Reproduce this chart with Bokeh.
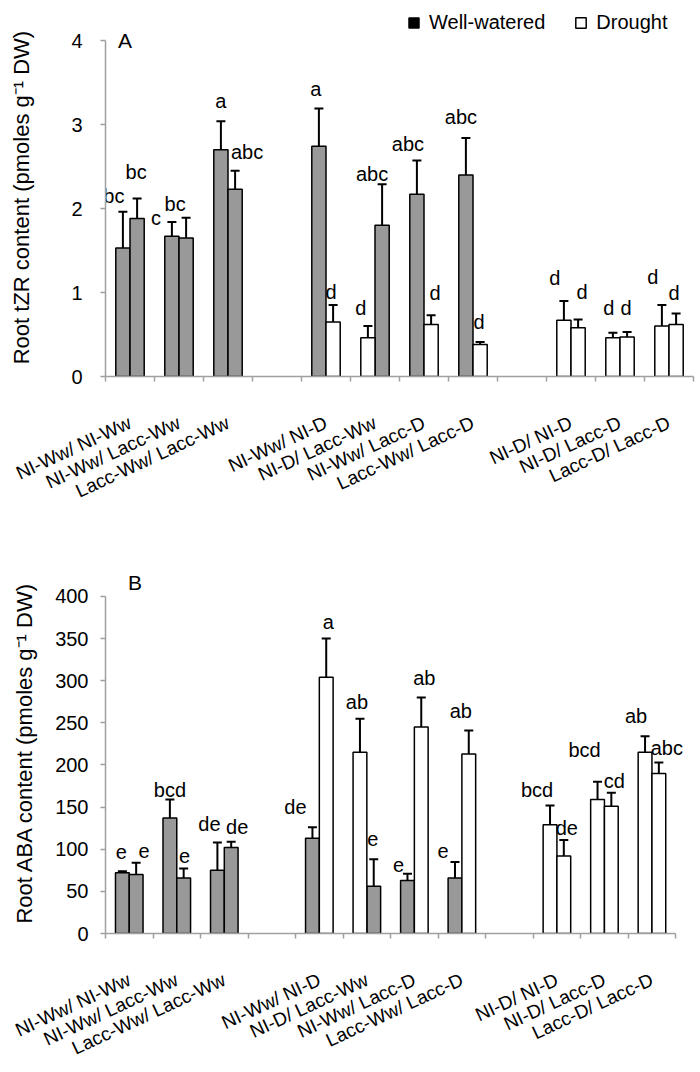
import math
from bokeh.plotting import figure
from bokeh.layouts import column
from bokeh.models import (ColumnDataSource, FixedTicker, Whisker, TeeHead, Range1d,
                          Legend, LegendItem)
from bokeh.core.properties import value
from bokeh.embed import file_html
from bokeh.resources import INLINE

# ---------------- data ----------------
categories = ["NI-Ww/ NI-Ww", "NI-Ww/ Lacc-Ww", "Lacc-Ww/ Lacc-Ww", "",
              "NI-Ww/ NI-D", "NI-D/ Lacc-Ww", "NI-Ww/ Lacc-D", "Lacc-Ww/ Lacc-D", "",
              "NI-D/ NI-D", "NI-D/ Lacc-D", "Lacc-D/ Lacc-D"]
first_status = ["Ww", "Ww", "Ww", None, "Ww", "D", "Ww", "Ww", None, "D", "D", "D"]
second_status = ["Ww", "Ww", "Ww", None, "D", "Ww", "D", "D", None, "D", "D", "D"]

# Panel A: root tZR content
tzr_first = [1.53, 1.67, 2.70, None, 2.74, 0.46, 2.17, 2.40, None, 0.67, 0.46, 0.60]
tzr_first_se = [0.43, 0.17, 0.34, None, 0.45, 0.14, 0.40, 0.44, None, 0.23, 0.06, 0.25]
tzr_second = [1.88, 1.65, 2.23, None, 0.65, 1.80, 0.62, 0.38, None, 0.58, 0.47, 0.62]
tzr_second_se = [0.24, 0.24, 0.22, None, 0.20, 0.49, 0.11, 0.03, None, 0.10, 0.06, 0.13]
tzr_first_letters = ["bc", "c", "a", "", "a", "d", "abc", "abc", "", "d", "d", "d"]
tzr_second_letters = ["bc", "bc", "abc", "", "d", "abc", "d", "d", "", "d", "d", "d"]

# Panel B: root ABA content
aba_first = [72, 137, 75, None, 113, 215, 63, 66, None, 129, 159, 215]
aba_first_se = [2, 22, 33, None, 13, 40, 8, 19, None, 23, 21, 19]
aba_second = [70, 66, 102, None, 304, 56, 245, 213, None, 92, 151, 190]
aba_second_se = [14, 11, 7, None, 46, 32, 35, 28, None, 19, 16, 13]
aba_first_letters = ["e", "bcd", "de", "", "de", "ab", "e", "e", "", "bcd", "bcd", "ab"]
aba_second_letters = ["e", "e", "de", "", "a", "e", "ab", "ab", "", "de", "cd", "abc"]

# letter placement nudges (pixels)
tzr_first_dx = [-9, -16, 0, 0, -3, -7, -9, -5, 0, -9, -4, -9]
tzr_first_dy = [-16, -4, -20, 0, -20, -18, -17, -21, 0, -23, -25, -28]
tzr_second_dx = [-1, -11, 12, 0, -2, -10, 4, -1, 0, 4, -1, -2]
tzr_second_dy = [-26, -14, -19, 0, -13, -10, -22, -20, 0, -27, -24, -21]
aba_first_dx = [-1, 0, -8, 0, -17, -3, -9, -12, 0, -13, -13, -9]
aba_first_dy = [-19, -10, -18, 0, -20, -17, -9, -11, 0, -15, -32, -20]
aba_second_dx = [8, 1, 6, 0, 2, -1, 3, -8, 0, 3, 3, 8]
aba_second_dy = [-12, -13, -15, 0, -17, -20, -20, -19, 0, -12, -12, -14]

FONT = value("Liberation Sans")
GRAY_AXIS = "#a0a0a0"
BAR_W = 0.29
NAN = float("nan")


def build_records(first, first_se, second, second_se, l1, l2, dx1, dy1, dx2, dy2):
    recs = {"Ww": {k: [] for k in ("x", "top", "upper", "letter", "dx", "dy")},
            "D": {k: [] for k in ("x", "top", "upper", "letter", "dx", "dy")}}
    for i, cat in enumerate(categories):
        if not cat:
            continue
        for side, vals, ses, st, lt, dxs, dys in (
                (-1, first, first_se, first_status, l1, dx1, dy1),
                (1, second, second_se, second_status, l2, dx2, dy2)):
            r = recs[st[i]]
            r["x"].append(i + 0.5 + side * BAR_W / 2)
            r["top"].append(vals[i])
            r["upper"].append(vals[i] + ses[i])
            r["letter"].append(lt[i])
            r["dx"].append(dxs[i])
            r["dy"].append(dys[i])
    return recs


def make_panel(first, first_se, second, second_se, l1, l2, dx1, dy1, dx2, dy2,
               x_end, y_end, y_ticks, y_title, height, b_left, b_right, b_top, b_bottom,
               tick_standoff, title_standoff, panel_letter, letter_xy):
    p = figure(width=700, height=height, x_range=Range1d(0, x_end), y_range=Range1d(0, y_end),
               output_backend="svg", toolbar_location=None,
               min_border_left=b_left, min_border_right=b_right, min_border_top=b_top,
               min_border_bottom=b_bottom)
    recs = build_records(first, first_se, second, second_se, l1, l2, dx1, dy1, dx2, dy2)
    for st, fill in (("Ww", "#999999"), ("D", "white")):
        src = ColumnDataSource(recs[st])
        p.vbar(x="x", top="top", width=BAR_W, source=src, fill_color=fill,
               line_color="black", line_width=1.5)
        p.add_layout(Whisker(source=src, base="x", lower="top", upper="upper",
                             lower_head=None,
                             upper_head=TeeHead(size=9, line_width=2, line_color="black"),
                             line_width=2, line_color="black"))
        p.text(x="x", y="upper", text="letter", x_offset="dx", y_offset="dy", source=src,
               text_font=FONT, text_font_size="20px", text_align="center",
               text_baseline="middle", text_color="black")

    p.text(x=[letter_xy[0]], y=[letter_xy[1]], text=[panel_letter], text_font=FONT,
           text_font_size="21px", text_align="center", text_baseline="middle",
           text_color="black")

    p.xgrid.visible = False
    p.ygrid.visible = False
    p.outline_line_color = None
    p.background_fill_color = None
    p.border_fill_color = None

    centers = [i + 0.5 for i, c in enumerate(categories) if c]
    xax = p.xaxis[0]
    xax.ticker = FixedTicker(ticks=centers, minor_ticks=list(range(13)))
    xax.bounds = (0, 12)
    xax.major_label_overrides = {i + 0.5: c for i, c in enumerate(categories) if c}
    xax.major_tick_line_color = None
    xax.major_tick_in = 0
    xax.major_tick_out = 0
    xax.minor_tick_in = 0
    xax.minor_tick_out = 5
    xax.minor_tick_line_color = GRAY_AXIS
    xax.minor_tick_line_width = 1.5
    xax.axis_line_color = GRAY_AXIS
    xax.axis_line_width = 1.5
    xax.major_label_orientation = math.radians(25)
    xax.major_label_text_font = "Liberation Sans"
    xax.major_label_text_font_size = "19px"
    xax.major_label_text_color = "black"
    xax.major_label_standoff = 40

    yax = p.yaxis[0]
    yax.ticker = FixedTicker(ticks=y_ticks)
    yax.bounds = (0, y_ticks[-1])
    yax.minor_tick_line_color = None
    yax.major_tick_in = 0
    yax.major_tick_out = 5
    yax.major_tick_line_color = GRAY_AXIS
    yax.major_tick_line_width = 1.5
    yax.axis_line_color = GRAY_AXIS
    yax.axis_line_width = 1.5
    yax.major_label_text_font = "Liberation Sans"
    yax.major_label_text_font_size = "20px"
    yax.major_label_text_color = "black"
    yax.major_label_standoff = tick_standoff
    yax.axis_label = y_title
    yax.axis_label_text_font = "Liberation Sans"
    yax.axis_label_text_font_size = "22px"
    yax.axis_label_text_font_style = "normal"
    yax.axis_label_text_color = "black"
    yax.axis_label_standoff = title_standoff
    return p


TOP_H = 526
pA = make_panel(tzr_first, tzr_first_se, tzr_second, tzr_second_se,
                tzr_first_letters, tzr_second_letters,
                tzr_first_dx, tzr_first_dy, tzr_second_dx, tzr_second_dy,
                x_end=12, y_end=364 / 84, y_ticks=[0, 1, 2, 3, 4],
                y_title="Root tZR content  (pmoles g\u207b\u00b9 DW)",
                height=TOP_H, b_left=99, b_right=7, b_top=12, b_bottom=TOP_H - 376,
                tick_standoff=18, title_standoff=34, panel_letter="A",
                letter_xy=(0.40, 4.0))

# legend (black / white squares as in the original); the NaN rows draw nothing
rw = pA.vbar(x=[NAN], top=[NAN], width=0.2, fill_color="black", line_color="black")
rd = pA.vbar(x=[NAN], top=[NAN], width=0.2, fill_color="white", line_color="black",
             line_width=1.5)
leg = Legend(items=[LegendItem(label="Well-watered", renderers=[rw]),
                    LegendItem(label="Drought", renderers=[rd])],
             orientation="horizontal", location=(302, 342), border_line_color=None,
             background_fill_alpha=0, label_text_font="Liberation Sans",
             label_text_font_size="20px", label_text_color="black",
             glyph_width=13, glyph_height=13,
             spacing=29, label_standoff=9, padding=0, margin=0)
pA.add_layout(leg, "center")

BOT_TOP = 565 - TOP_H
pB = make_panel(aba_first, aba_first_se, aba_second, aba_second_se,
                aba_first_letters, aba_second_letters,
                aba_first_dx, aba_first_dy, aba_second_dx, aba_second_dy,
                x_end=12 + 18 / 48.08, y_end=372 / 0.8518,
                y_ticks=[0, 50, 100, 150, 200, 250, 300, 350, 400],
                y_title="Root ABA content  (pmoles g\u207b\u00b9 DW)",
                height=BOT_TOP + 372 + 134, b_left=105, b_right=0, b_top=BOT_TOP,
                b_bottom=134, tick_standoff=12, title_standoff=15, panel_letter="B",
                letter_xy=(0.62, 416))

layout = column(pA, pB, spacing=0)
open("out.html", "w").write(file_html(layout, INLINE))
